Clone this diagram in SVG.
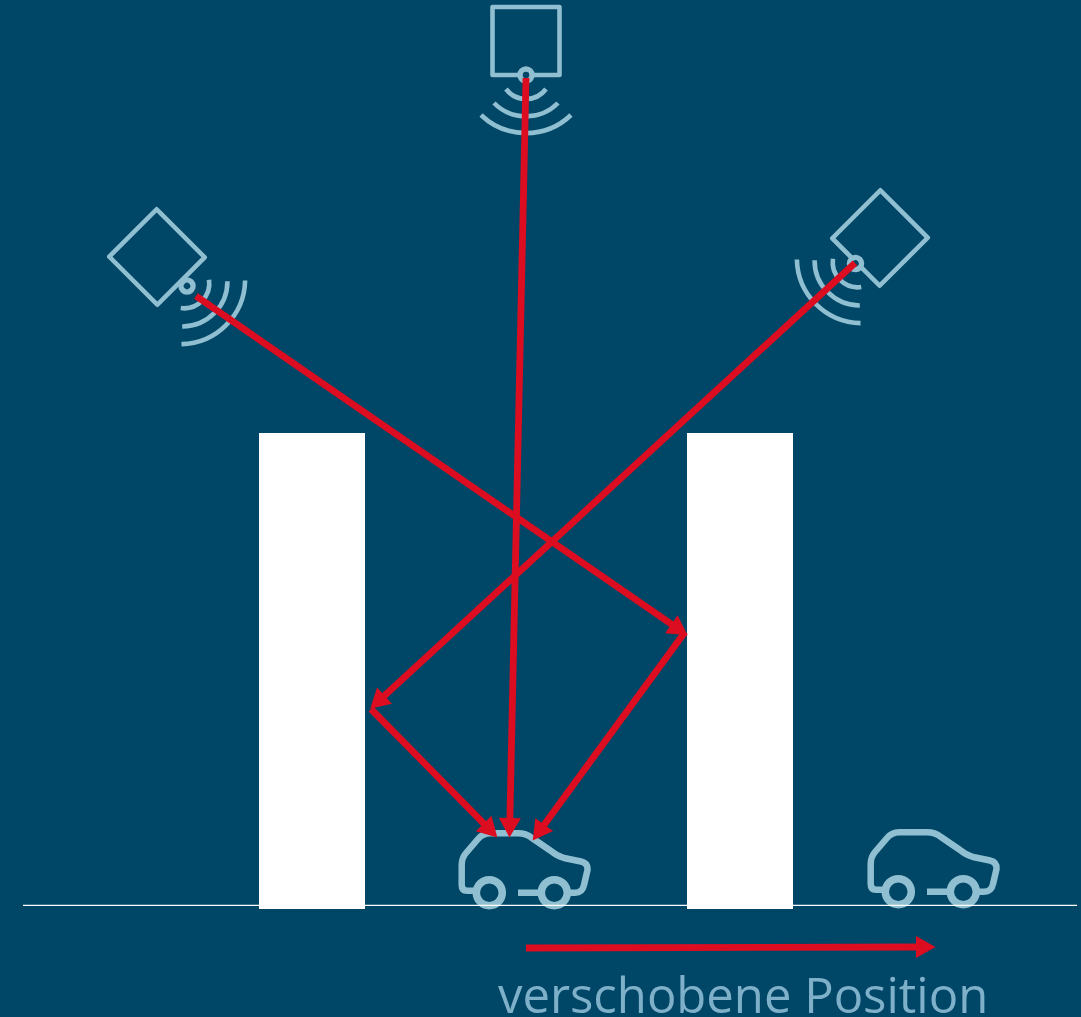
<svg xmlns="http://www.w3.org/2000/svg" width="1081" height="1017" viewBox="0 0 1081 1017">
<style>
.ic{fill:none;stroke:#8fbfd1;stroke-linecap:butt;stroke-linejoin:round}
.ray{fill:none;stroke:#dc0d20;stroke-width:6.8}
.wall{fill:#fff}
.lbl{font-family:"Open Sans","Noto Sans",sans-serif;font-size:49px;fill:#7fb0c9}
</style>
<defs>
<marker id="ah" markerUnits="userSpaceOnUse" markerWidth="22" markerHeight="24" viewBox="0 0 20 24" refX="9" refY="12" orient="auto"><path d="M0 1 L19.5 12 L0 23 Z" fill="#dc0d20"/></marker>
<rect id="box" class="ic" x="-33.5" y="-34" width="67" height="68" stroke-width="4.6"/>
<circle id="dot" cx="0" cy="0" r="6" fill="#004666" stroke="#8fbfd1" stroke-width="5.5"/>
<path id="waves" class="ic" stroke-width="4.6" d="M-20 14 A25 25 0 0 0 20 14 M-32 28 A45 45 0 0 0 32 28 M-45 40 A65 65 0 0 0 45 40"/>
<g id="car">
<path class="ic" stroke-width="6.5" d="M475 890.7 H467 Q461.7 890.7 461.7 885 V865 Q461.7 858 466 853 L478 839 Q483 833.3 490 833.3 H518 Q526 833.3 532 838 L551 851 Q557 856 564 858 L581 861.5 Q588 863 587.5 870 L584 885 Q582.5 892.7 575 892.7 H568 M518 892.7 H540"/>
<circle class="ic" stroke-width="7.5" cx="489.3" cy="892.7" r="13"/>
<circle class="ic" stroke-width="7.5" cx="554.3" cy="892.7" r="13"/>
</g>
</defs>
<rect id="background" width="1081" height="1017" fill="#004666"/>
<g id="antenna-top"><use href="#box" transform="translate(526 41)"/><use href="#dot" transform="translate(526 75)"/><use href="#waves" transform="translate(526 75)"/></g>
<g id="antenna-left"><use href="#box" transform="translate(157 257) rotate(-45)"/><use href="#dot" transform="translate(187 286) rotate(-45)"/><use href="#waves" transform="translate(185 284) rotate(-45)"/></g>
<g id="antenna-right"><use href="#box" transform="translate(880 238) rotate(45)"/><use href="#dot" transform="translate(855.5 263.5) rotate(45)"/><use href="#waves" transform="translate(857 263) rotate(45)"/></g>
<g id="wall-left"><rect class="wall" x="259" y="433" width="106" height="476"/></g>
<g id="wall-right"><rect class="wall" x="687" y="433" width="106" height="476"/></g>
<g id="car-1"><use href="#car"/></g>
<g id="car-2"><use href="#car" transform="translate(409 -1)"/></g>
<g id="ground"><line x1="23" y1="905.3" x2="1077" y2="905.3" stroke="#fff" stroke-width="1.2"/></g>
<g id="connectors">
<line class="ray" x1="196" y1="296" x2="678.8" y2="629.3" marker-end="url(#ah)"/>
<line class="ray" x1="526" y1="78" x2="509.7" y2="827" marker-end="url(#ah)"/>
<line class="ray" x1="855" y1="263" x2="377.9" y2="701.7" marker-end="url(#ah)"/>
<line class="ray" x1="371" y1="709" x2="490" y2="829.9" marker-end="url(#ah)"/>
<line class="ray" x1="685" y1="632" x2="538.9" y2="831.9" marker-end="url(#ah)"/>
<line class="ray" x1="526" y1="948" x2="925" y2="947" marker-end="url(#ah)"/>
</g>
<g id="label"><text class="lbl" x="498" y="1013">verschobene Position</text></g>
</svg>
